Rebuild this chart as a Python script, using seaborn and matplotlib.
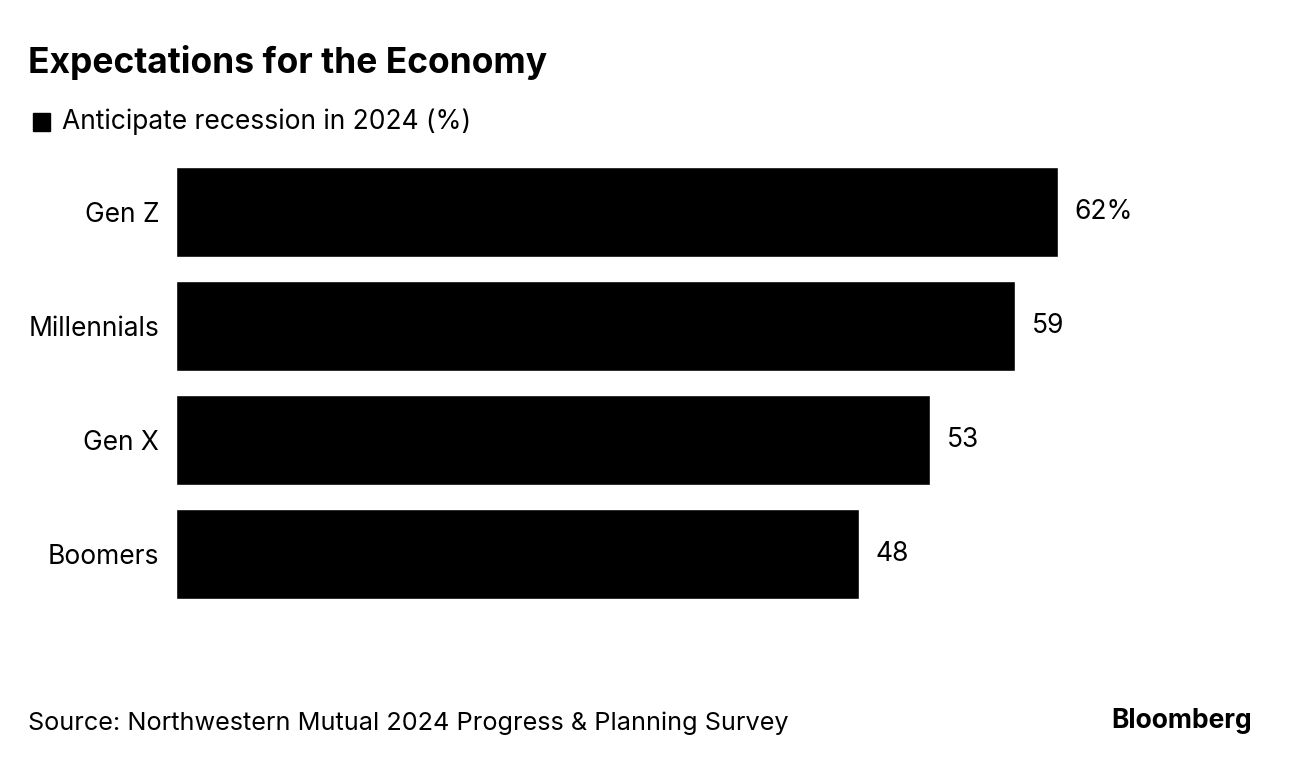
import matplotlib
matplotlib.use("Agg")
import matplotlib.pyplot as plt
import matplotlib.patches as mpatches
import seaborn as sns
import pandas as pd

# data
generations = ["Gen Z", "Millennials", "Gen X", "Boomers"]
recession_pct = [62, 59, 53, 48]
value_labels = ["62%", "59", "53", "48"]

TITLE = "Expectations for the Economy"
LEGEND = "Anticipate recession in 2024 (%)"
SOURCE = "Source: Northwestern Mutual 2024 Progress & Planning Survey"

sns.set_theme(style="white")
plt.rcParams["font.family"] = ["Inter", "DejaVu Sans"]

df = pd.DataFrame({"generation": generations, "pct": recession_pct})

W, H = 1292, 766
fig = plt.figure(figsize=(W / 100, H / 100), dpi=100)
# axes placed in pixel terms: left 176, right 1200, top 155, bottom 611
ax = fig.add_axes([176 / W, 1 - 611 / H, (1200 - 176) / W, (611 - 155) / H])

sns.barplot(data=df, x="pct", y="generation", color="black", saturation=1,
            width=0.79, orient="h", ax=ax)
ax.set_xlim(0, 1024 / (882 / 62))
ax.set_ylim(3.5, -0.5)
ax.set_xlabel(""); ax.set_ylabel("")
ax.set_xticks([])
ax.tick_params(axis="y", length=0, pad=12, labelsize=19, labelcolor="black")
for s in ax.spines.values():
    s.set_visible(False)

for i, (v, lab) in enumerate(zip(recession_pct, value_labels)):
    ax.annotate(lab, (v, i), xytext=(12, 0), textcoords="offset points",
                va="center", ha="left", fontsize=19, color="black")

fig.text(28 / W, 1 - 62 / H, TITLE, fontsize=25.5, fontweight="bold",
         va="center", ha="left", color="black")
fig.patches.append(mpatches.Rectangle((33 / W, 1 - 131 / H), 17 / W, 18 / H,
                                      transform=fig.transFigure, color="black"))
fig.text(62 / W, 1 - 122 / H, LEGEND, fontsize=19, va="center", ha="left", color="black")
fig.text(28 / W, 1 - 723 / H, SOURCE, fontsize=18.2, va="center", ha="left", color="black")
fig.text(1252 / W, 1 - 721 / H, "Bloomberg", fontsize=19, fontweight="bold",
         va="center", ha="right", color="black")

fig.savefig("out.png", dpi=100, facecolor="white")
